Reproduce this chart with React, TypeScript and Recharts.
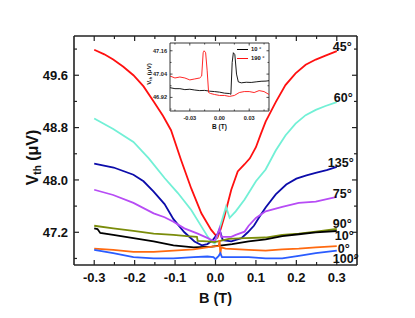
import React from 'react';
import { LineChart, Line, XAxis, YAxis, ReferenceLine, Legend } from 'recharts';

const FONT = '"Liberation Sans", Arial, Helvetica, sans-serif';

// ---------- main chart data ----------
const B45 = [-0.3, -0.275, -0.253, -0.228, -0.203, -0.178, -0.153, -0.13, -0.11, -0.085, -0.06, -0.035, -0.011, 0.005, 0.013, 0.022, 0.039, 0.055, 0.072, 0.085, 0.1, 0.112, 0.124, 0.149, 0.173, 0.198, 0.223, 0.248, 0.272, 0.3];
const V45 = [49.99, 49.92, 49.84, 49.73, 49.6, 49.43, 49.2, 48.98, 48.76, 48.3, 47.87, 47.49, 47.24, 47.12, 47.25, 47.44, 47.85, 48.13, 48.24, 48.33, 48.5, 48.7, 48.89, 49.19, 49.45, 49.63, 49.76, 49.84, 49.9, 49.97];

const B60 = [-0.3, -0.253, -0.203, -0.165, -0.126, -0.093, -0.06, -0.035, -0.019, -0.011, -0.002, 0.014, 0.026, 0.035, 0.05, 0.072, 0.1, 0.124, 0.149, 0.173, 0.198, 0.223, 0.248, 0.272, 0.3];
const V60 = [48.94, 48.78, 48.58, 48.33, 48.03, 47.8, 47.54, 47.29, 47.13, 47.06, 47.03, 47.34, 47.59, 47.42, 47.52, 47.7, 47.98, 48.16, 48.45, 48.68, 48.86, 48.99, 49.07, 49.13, 49.19];

const B135 = [-0.3, -0.252, -0.203, -0.178, -0.153, -0.126, -0.104, -0.077, -0.052, -0.034, -0.02, -0.007, 0.006, 0.01, 0.018, 0.039, 0.064, 0.08, 0.095, 0.11, 0.124, 0.149, 0.175, 0.2, 0.225, 0.25, 0.275, 0.3];
const V135 = [48.25, 48.19, 48.08, 47.98, 47.82, 47.63, 47.4, 47.2, 47.06, 47.0, 47.02, 47.08, 47.18, 47.24, 47.08, 47.06, 47.11, 47.2, 47.3, 47.45, 47.58, 47.78, 47.93, 48.02, 48.07, 48.11, 48.15, 48.2];

const B75 = [-0.3, -0.253, -0.203, -0.153, -0.126, -0.104, -0.077, -0.044, -0.019, -0.002, 0.01, 0.014, 0.039, 0.05, 0.072, 0.082, 0.1, 0.124, 0.165, 0.206, 0.248, 0.3];
const V75 = [47.85, 47.77, 47.65, 47.49, 47.43, 47.36, 47.26, 47.18, 47.11, 47.06, 47.26, 47.13, 47.13, 47.16, 47.21, 47.3, 47.42, 47.52, 47.59, 47.65, 47.67, 47.74];

const B90 = [-0.3, -0.253, -0.203, -0.153, -0.104, -0.071, -0.046, -0.044, -0.02, -0.002, 0.033, 0.072, 0.124, 0.165, 0.206, 0.248, 0.3];
const V90 = [47.3, 47.26, 47.22, 47.18, 47.16, 47.14, 47.13, 47.07, 47.06, 47.05, 47.1, 47.11, 47.12, 47.16, 47.18, 47.21, 47.25];

const B10 = [-0.3, -0.292, -0.285, -0.253, -0.203, -0.153, -0.104, -0.054, -0.009, 0.016, 0.041, 0.082, 0.124, 0.165, 0.206, 0.248, 0.3];
const V10 = [47.26, 47.25, 47.19, 47.16, 47.11, 47.06, 47.0, 46.97, 46.98, 47.0, 47.02, 47.06, 47.09, 47.14, 47.17, 47.2, 47.22];

const B0 = [-0.3, -0.253, -0.203, -0.153, -0.104, -0.054, -0.009, 0.008, 0.01, 0.012, 0.014, 0.025, 0.082, 0.124, 0.165, 0.206, 0.248, 0.3];
const V0 = [46.95, 46.93, 46.9, 46.9, 46.92, 46.94, 46.98, 46.99, 47.08, 46.86, 46.97, 46.95, 46.93, 46.92, 46.94, 46.95, 46.97, 46.99];

const B100 = [-0.3, -0.253, -0.203, -0.153, -0.104, -0.054, -0.02, -0.005, 0.0, 0.008, 0.012, 0.016, 0.025, 0.082, 0.124, 0.165, 0.206, 0.248, 0.3];
const V100 = [46.93, 46.88, 46.82, 46.8, 46.8, 46.82, 46.83, 46.82, 46.79, 46.84, 46.88, 46.82, 46.82, 46.82, 46.8, 46.8, 46.84, 46.88, 46.92];

const xTicks = [-0.3, -0.25, -0.2, -0.15, -0.1, -0.05, 0, 0.05, 0.1, 0.15, 0.2, 0.25, 0.3];
const xMajor = [-0.3, -0.2, -0.1, 0, 0.1, 0.2, 0.3];
const xLabels = ['-0.3', '-0.2', '-0.1', '0.0', '0.1', '0.2', '0.3'];
const yTicks = [46.8, 47.2, 47.6, 48.0, 48.4, 48.8, 49.2, 49.6, 50.0];
const yMajor = [47.2, 48.0, 48.8, 49.6];
const yLabels = ['47.2', '48.0', '48.8', '49.6'];

// ---------- inset data ----------
const iB190 = [-0.05, -0.045, -0.04, -0.035, -0.03, -0.025, -0.02, -0.018, -0.0165, -0.0155, -0.014, -0.0125, -0.011, -0.009, -0.005, 0, 0.005, 0.01, 0.015, 0.02, 0.025, 0.03, 0.035, 0.04, 0.045, 0.05];
const iV190 = [47.03, 47.02, 47.025, 47.02, 47.01, 47.015, 47.02, 47.03, 47.15, 47.16, 47.15, 47.06, 46.945, 46.94, 46.935, 46.93, 46.93, 46.925, 46.93, 46.945, 46.95, 46.95, 46.945, 46.955, 46.95, 46.935];
const iB10 = [-0.05, -0.045, -0.04, -0.035, -0.03, -0.025, -0.02, -0.015, -0.01, -0.005, 0, 0.005, 0.01, 0.0115, 0.0128, 0.014, 0.0155, 0.0172, 0.019, 0.022, 0.027, 0.032, 0.037, 0.042, 0.047, 0.05];
const iV10 = [46.97, 46.965, 46.965, 46.96, 46.962, 46.958, 46.955, 46.956, 46.952, 46.95, 46.947, 46.942, 46.94, 46.936, 47.1, 47.15, 47.14, 47.04, 47.0, 46.995, 46.998, 46.997, 47.0, 47.003, 47.004, 47.006];
const ixTicks = [-0.045, -0.03, -0.015, 0, 0.015, 0.03, 0.045];
const ixMajor = [-0.03, 0, 0.03];
const ixLabels = ['-0.03', '0.00', '0.03'];
const iyTicks = [46.86, 46.92, 46.98, 47.04, 47.1, 47.16];
const iyMajor = [46.92, 47.04, 47.16];
const iyLabels = ['46.92', '47.04', '47.16'];

const toPts = (bs: number[], vs: number[]) => bs.map((b, i) => ({ b, v: vs[i] }));

const series = [
  { name: '45°', color: '#ff1010', data: toPts(B45, V45), dx: -4, dy: 0 },
  { name: '60°', color: '#72f0d6', data: toPts(B60, V60), dx: -3, dy: 0 },
  { name: '135°', color: '#0c0caa', data: toPts(B135, V135), dx: -9, dy: 0 },
  { name: '75°', color: '#b74cf5', data: toPts(B75, V75), dx: -4, dy: 1 },
  { name: '90°', color: '#7a8c0a', data: toPts(B90, V90), dx: -4, dy: -1.5 },
  { name: '10°', color: '#000000', data: toPts(B10, V10), dx: -2, dy: 9.5 },
  { name: '0°', color: '#ff6a10', data: toPts(B0, V0), dx: 1, dy: 6.5 },
  { name: '100°', color: '#2a5cff', data: toPts(B100, V100), dx: -4, dy: 12.5 },
];

const insetSeries = [
  { name: '10 °', color: '#000000', data: toPts(iB10, iV10) },
  { name: '190 °', color: '#ff1010', data: toPts(iB190, iV190) },
];

const PW = 283, PH = 229;
const IW = 99, IH = 68;
const AX = '#222';

const near = (arr: number[], v: number) => arr.findIndex((m) => Math.abs(m - v) < 1e-6);

const XTick = (p: any) => {
  const i = near(xMajor, p.payload.value);
  const len = i >= 0 ? 5 : 3;
  return (
    <g>
      <line x1={p.x} x2={p.x} y1={p.y} y2={p.y - len} stroke={AX} strokeWidth={1.2} />
      <line x1={p.x} x2={p.x} y1={p.y - PH} y2={p.y - PH + len} stroke={AX} strokeWidth={1.2} />
      {i >= 0 && (
        <text x={p.x} y={p.y + 16.5} textAnchor="middle" fontSize={13} fontWeight="bold" fontFamily={FONT} fill="#111">
          {xLabels[i]}
        </text>
      )}
    </g>
  );
};

const YTick = (p: any) => {
  const i = near(yMajor, p.payload.value);
  const len = i >= 0 ? 5 : 3;
  return (
    <g>
      <line x1={p.x} x2={p.x + len} y1={p.y} y2={p.y} stroke={AX} strokeWidth={1.2} />
      <line x1={p.x + PW} x2={p.x + PW - len} y1={p.y} y2={p.y} stroke={AX} strokeWidth={1.2} />
      {i >= 0 && (
        <text x={p.x - 6} y={p.y + 4.6} textAnchor="end" fontSize={13} fontWeight="bold" fontFamily={FONT} fill="#111">
          {yLabels[i]}
        </text>
      )}
    </g>
  );
};

const IXTick = (p: any) => {
  const i = near(ixMajor, p.payload.value);
  const len = i >= 0 ? 2.5 : 1.5;
  return (
    <g>
      <line x1={p.x} x2={p.x} y1={p.y} y2={p.y - len} stroke={AX} strokeWidth={0.8} />
      <line x1={p.x} x2={p.x} y1={p.y - IH} y2={p.y - IH + len} stroke={AX} strokeWidth={0.8} />
      {i >= 0 && (
        <text x={p.x} y={p.y + 8.5} textAnchor="middle" fontSize={5.6} fontWeight="bold" fontFamily={FONT} fill="#222">
          {ixLabels[i]}
        </text>
      )}
    </g>
  );
};

const IYTick = (p: any) => {
  const i = near(iyMajor, p.payload.value);
  const len = i >= 0 ? 2.5 : 1.5;
  return (
    <g>
      <line x1={p.x} x2={p.x + len} y1={p.y} y2={p.y} stroke={AX} strokeWidth={0.8} />
      <line x1={p.x + IW} x2={p.x + IW - len} y1={p.y} y2={p.y} stroke={AX} strokeWidth={0.8} />
      {i >= 0 && (
        <text x={p.x - 3} y={p.y + 2} textAnchor="end" fontSize={5.6} fontWeight="bold" fontFamily={FONT} fill="#222">
          {iyLabels[i]}
        </text>
      )}
    </g>
  );
};

const endLabel = (text: string, n: number, dx: number, dy: number) => (p: any) =>
  p.index === n - 1 ? (
    <text x={p.x + dx} y={p.y + dy} fontSize={12.5} fontWeight="bold" fontFamily={FONT} fill="#111">
      {text}
    </text>
  ) : null;

const InsetLegend = () => (
  <div style={{ fontFamily: FONT, fontSize: 5.8, fontWeight: 'bold', lineHeight: '9px', color: '#111' }}>
    {insetSeries.map((s) => (
      <div key={s.name} style={{ display: 'flex', alignItems: 'center', height: 9 }}>
        <span style={{ display: 'inline-block', width: 11, height: 1, background: s.color, marginRight: 3 }} />
        <span>{s.name}</span>
      </div>
    ))}
  </div>
);

export default function App() {
  return (
    <div style={{ position: 'absolute', left: 0, top: 0, width: 415, height: 318, background: '#fff' }}>
      <LineChart width={415} height={318} margin={{ top: 36, right: 58, bottom: 23, left: 0 }}>
        <XAxis
          dataKey="b"
          type="number"
          domain={[-0.35, 0.35]}
          ticks={xTicks}
          interval={0}
          allowDuplicatedCategory={false}
          tickSize={0}
          tickMargin={0}
          tick={<XTick />}
          height={30}
          axisLine={{ stroke: AX, strokeWidth: 1.6 }}
          tickLine={false}
          label={{
            content: (lp: any) => (
              <text x={lp.viewBox.x + lp.viewBox.width / 2} y={lp.viewBox.y + 38} textAnchor="middle" fontSize={14.5} fontWeight="bold" fontFamily={FONT} fill="#111">
                B (T)
              </text>
            ),
          }}
        />
        <YAxis
          dataKey="v"
          type="number"
          domain={[46.7, 50.2]}
          ticks={yTicks}
          interval={0}
          tickSize={0}
          tickMargin={0}
          tick={<YTick />}
          width={74}
          axisLine={{ stroke: AX, strokeWidth: 1.6 }}
          tickLine={false}
          label={{
            content: (lp: any) => {
              const x = 38;
              const y = lp.viewBox.y + lp.viewBox.height / 2 + 7;
              return (
                <text x={x} y={y} transform={`rotate(-90 ${x} ${y})`} textAnchor="middle" fontSize={16} fontWeight="bold" fontFamily={FONT} fill="#111">
                  V<tspan fontSize={10} dy={3}>th</tspan>
                  <tspan dy={-3}> (μV)</tspan>
                </text>
              );
            },
          }}
        />
        <ReferenceLine x={0.35} stroke={AX} strokeWidth={1.6} />
        <ReferenceLine y={50.2} stroke={AX} strokeWidth={1.6} />
        {series.map((s) => (
          <Line
            key={s.name}
            data={s.data}
            dataKey="v"
            type="linear"
            stroke={s.color}
            strokeWidth={1.8}
            dot={false}
            activeDot={false}
            isAnimationActive={false}
            label={endLabel(s.name, s.data.length, s.dx, s.dy)}
          />
        ))}
      </LineChart>

      <div style={{ position: 'absolute', left: 140, top: 38, width: 135, height: 97 }}>
        <LineChart width={135} height={97} margin={{ top: 5, right: 6, bottom: 4, left: 0 }}>
          <XAxis
            dataKey="b"
            type="number"
            domain={[-0.05, 0.05]}
            ticks={ixTicks}
            interval={0}
            tickSize={0}
            tickMargin={0}
            tick={<IXTick />}
            height={20}
            axisLine={{ stroke: AX, strokeWidth: 0.9 }}
            tickLine={false}
            label={{
              content: (lp: any) => (
                <text x={lp.viewBox.x + lp.viewBox.width / 2} y={lp.viewBox.y + 18} textAnchor="middle" fontSize={6.5} fontWeight="bold" fontFamily={FONT} fill="#111">
                  B (T)
                </text>
              ),
            }}
          />
          <YAxis
            dataKey="v"
            type="number"
            domain={[46.85, 47.2]}
            ticks={iyTicks}
            interval={0}
            tickSize={0}
            tickMargin={0}
            tick={<IYTick />}
            width={30}
            axisLine={{ stroke: AX, strokeWidth: 0.9 }}
            tickLine={false}
            label={{
              content: () => {
                const x = 11;
                const y = 36;
                return (
                  <text x={x} y={y} transform={`rotate(-90 ${x} ${y})`} textAnchor="middle" fontSize={6.2} fontWeight="bold" fontFamily={FONT} fill="#111">
                    V<tspan fontSize={4} dy={1.2}>th</tspan>
                    <tspan dy={-1.2}> (μV)</tspan>
                  </text>
                );
              },
            }}
          />
          <ReferenceLine x={0.05} stroke={AX} strokeWidth={0.9} />
          <ReferenceLine y={47.2} stroke={AX} strokeWidth={0.9} />
          <Legend
            layout="vertical"
            align="center"
            verticalAlign="middle"
            content={() => <InsetLegend />}
            wrapperStyle={{ position: 'absolute', left: 97, top: 7, width: 40 }}
          />
          {insetSeries.map((s) => (
            <Line
              key={s.name}
              name={s.name}
              data={s.data}
              dataKey="v"
              type="linear"
              stroke={s.color}
              strokeWidth={0.9}
              dot={false}
              activeDot={false}
              isAnimationActive={false}
            />
          ))}
        </LineChart>
      </div>
    </div>
  );
}
